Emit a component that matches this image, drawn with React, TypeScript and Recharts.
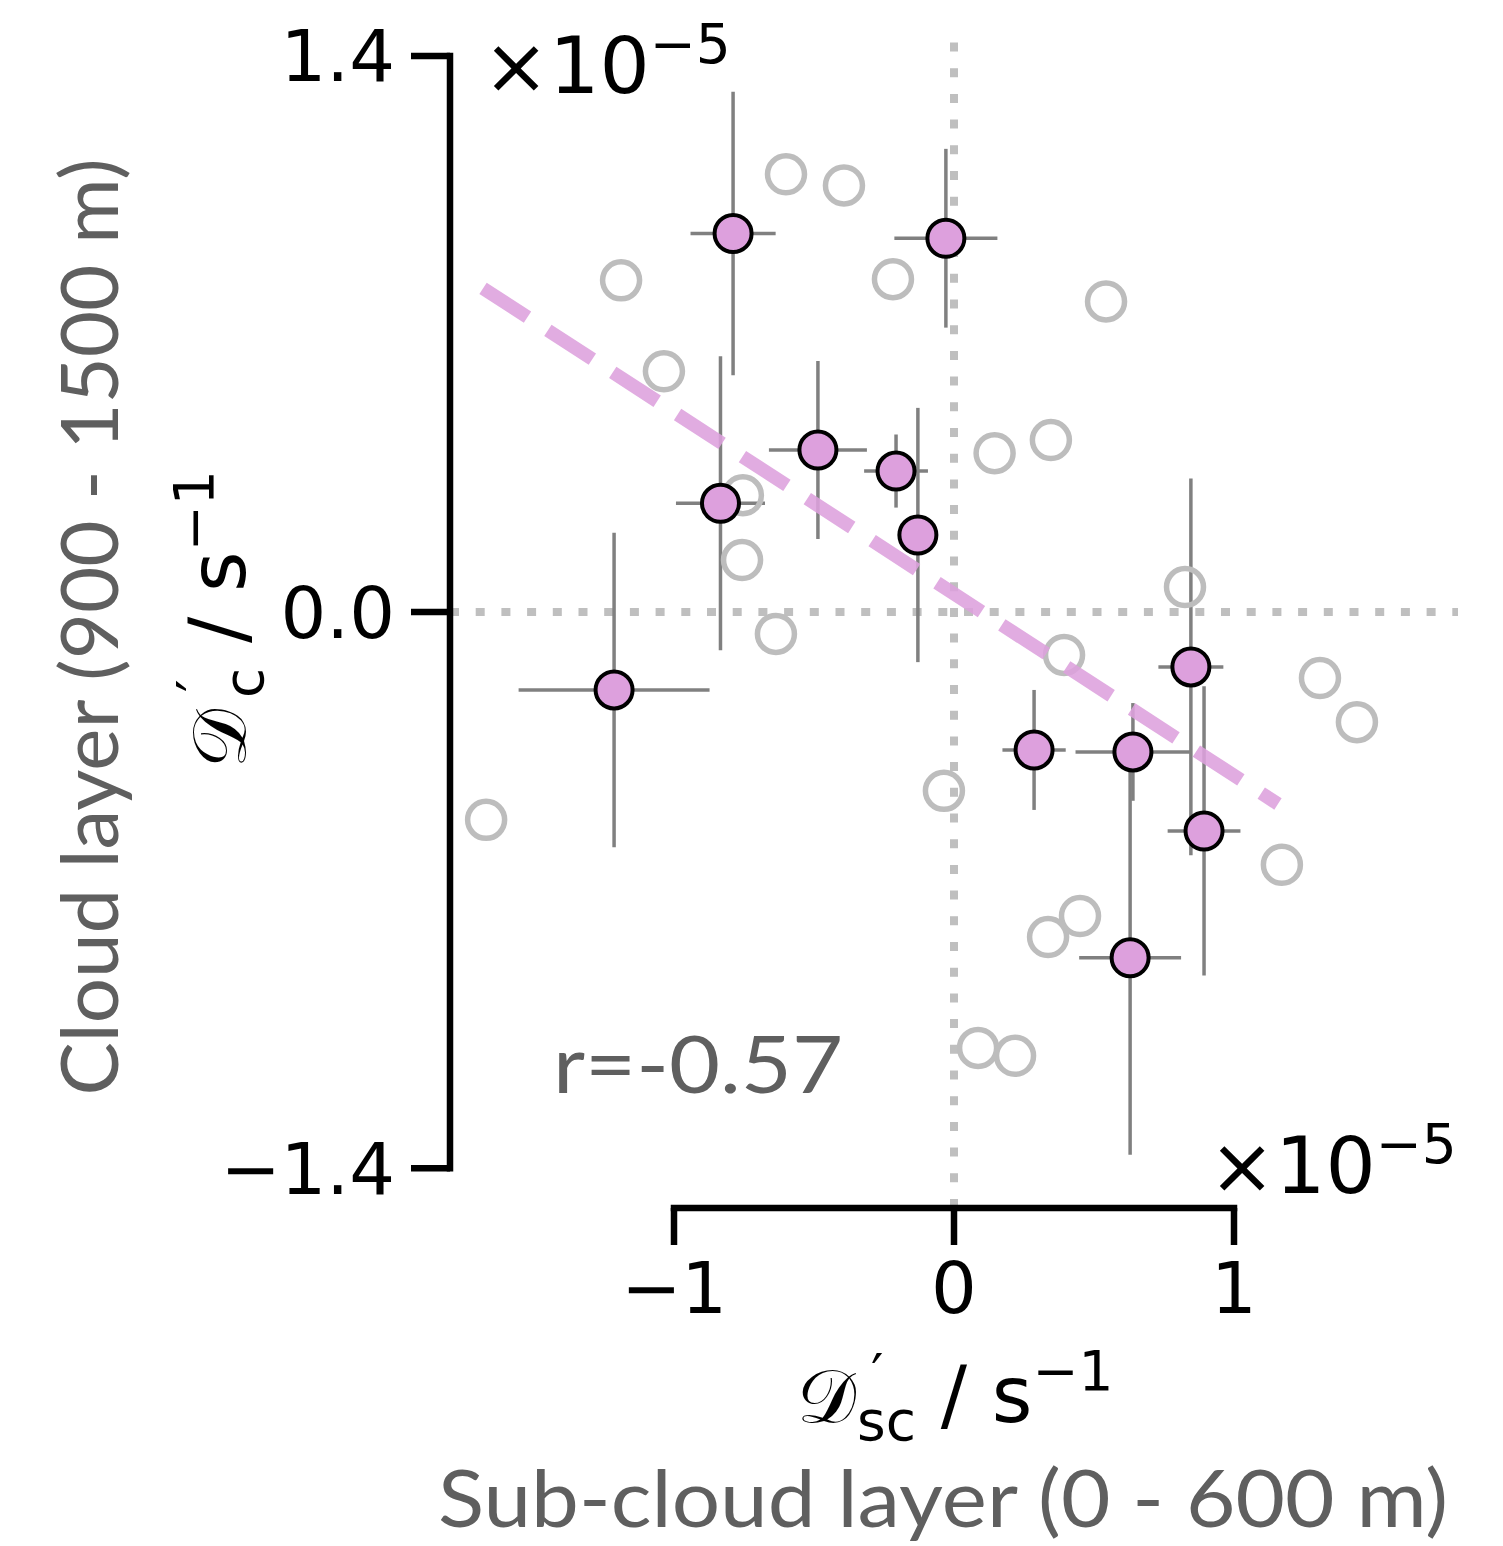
import React from "react";
import { ComposedChart, Scatter, XAxis, YAxis, ReferenceLine, ErrorBar } from "recharts";

// Highlighted cases (purple, with error bars)
const selX = [-0.789, -0.029, -0.486, -0.207, -0.834, -0.129, -1.214, 0.846, 0.286, 0.639, 0.893, 0.629];
const selY = [0.953, 0.941, 0.408, 0.355, 0.274, 0.194, -0.196, -0.138, -0.347, -0.352, -0.551, -0.870];
const selXErr = [0.152, 0.184, 0.175, 0.114, 0.159, 0.05, 0.341, 0.116, 0.113, 0.205, 0.130, 0.182];
const selYErr = [0.357, 0.225, 0.224, 0.092, 0.370, 0.320, 0.396, 0.474, 0.151, 0.123, 0.364, 0.496];

// Other cases (grey open circles)
const otherX = [-0.600, -0.393, -1.189, -0.218, 0.543, -1.036, 0.145, 0.346, -0.754, -0.757, -0.636, 0.825, 0.393, 1.307, 1.439, -0.036, -1.671, 1.171, 0.450, 0.336, 0.086, 0.218];
const otherY = [1.102, 1.074, 0.835, 0.838, 0.782, 0.606, 0.400, 0.433, 0.294, 0.131, -0.055, 0.063, -0.108, -0.166, -0.277, -0.450, -0.523, -0.636, -0.765, -0.818, -1.097, -1.117];

// Regression line end points
const fitX = [-1.682, 1.157];
const fitY = [0.815, -0.483];

const xTicks = [-1, 0, 1];
const yTicks = [-1.4, 0, 1.4];
const xDomain = [-1.8, 1.8];
const yDomain = [-1.5, 1.44];
const corrText = "r=-0.57";

const selData = selX.map((x, i) => ({ x, y: selY[i], xerr: selXErr[i], yerr: selYErr[i] }));
const otherData = otherX.map((x, i) => ({ x, y: otherY[i] }));
const fitData = fitX.map((x, i) => ({ x, y: fitY[i] }));

const PLUM = "#DDA0DD";
const GREY_TXT = "#5f5f5f";
const TICK_FONT = "DejaVu Sans";
const LABEL_FONT = "Lato";

const fmtX = (v: number) => (v < 0 ? "\u2212" + Math.abs(v) : String(v));
const fmtY = (v: number) => (v < 0 ? "\u2212" : "") + Math.abs(v).toFixed(1);

const Empty = () => <g />;
const OpenCircle = (p: any) => (
  <circle cx={p.cx} cy={p.cy} r={18.5} fill="none" stroke="#bdbdbd" strokeWidth={5.5} />
);
const FilledCircle = (p: any) => (
  <circle cx={p.cx} cy={p.cy} r={18.5} fill={PLUM} stroke="#000" strokeWidth={4} />
);

export default function App() {
  return (
    <div style={{ position: "absolute", left: 0, top: 0, width: 1503, height: 1546, background: "#fff" }}>
      <ComposedChart
        width={1503}
        height={1546}
        margin={{ top: 40, right: 45, bottom: 238, left: 350 }}
      >
        <XAxis
          type="number"
          dataKey="x"
          domain={xDomain}
          ticks={xTicks}
          interval={0}
          allowDataOverflow
          axisLine={false}
          tickLine={{ stroke: "#000", strokeWidth: 6.5 }}
          tickSize={37}
          tickMargin={17}
          tickFormatter={fmtX}
          tick={{ fill: "#000", fontSize: 72, fontFamily: TICK_FONT }}
          height={100}
        />
        <YAxis
          type="number"
          dataKey="y"
          domain={yDomain}
          ticks={yTicks}
          interval={0}
          allowDataOverflow
          axisLine={false}
          tickLine={{ stroke: "#000", strokeWidth: 6.5 }}
          tickSize={39}
          tickMargin={16}
          tickFormatter={fmtY}
          tick={{ fill: "#000", fontSize: 72, fontFamily: TICK_FONT }}
          width={100}
        />
        <ReferenceLine y={0} stroke="#bfbfbf" strokeWidth={8} strokeDasharray="9 16.7" />
        <ReferenceLine x={0} stroke="#bfbfbf" strokeWidth={8} strokeDasharray="9 16.7" />
        <Scatter data={otherData} shape={OpenCircle} isAnimationActive={false} />
        <Scatter data={selData} shape={Empty} isAnimationActive={false}>
          <ErrorBar dataKey="xerr" direction="x" width={0} stroke="#808080" strokeWidth={3.5} isAnimationActive={false} />
          <ErrorBar dataKey="yerr" direction="y" width={0} stroke="#808080" strokeWidth={3.5} isAnimationActive={false} />
        </Scatter>
        <Scatter
          data={fitData}
          shape={Empty}
          line={{ stroke: PLUM, strokeWidth: 13.5, strokeDasharray: "53 24.3", strokeOpacity: 0.88 }}
          lineType="joint"
          isAnimationActive={false}
        />
        <Scatter data={selData} shape={FilledCircle} isAnimationActive={false} />
        <ReferenceLine
          segment={[{ x: xDomain[0], y: yTicks[0] }, { x: xDomain[0], y: yTicks[2] }]}
          stroke="#000"
          strokeWidth={6.5}
          strokeLinecap="square"
          ifOverflow="visible"
        />
        <ReferenceLine
          segment={[{ x: xTicks[0], y: yDomain[0] }, { x: xTicks[2], y: yDomain[0] }]}
          stroke="#000"
          strokeWidth={6.5}
          strokeLinecap="square"
          ifOverflow="visible"
        />
      </ComposedChart>
      <svg
        width={1503}
        height={1546}
        style={{ position: "absolute", left: 0, top: 0, pointerEvents: "none" }}
      >
        {/* y offset text */}
        <text x={483} y={93} fontFamily={TICK_FONT} fontSize={79} fill="#000">
          ×10<tspan dy={-30} fontSize={55}>−5</tspan>
        </text>
        {/* x offset text */}
        <text x={1209} y={1193} fontFamily={TICK_FONT} fontSize={79} fill="#000">
          ×10<tspan dy={-30} fontSize={55}>−5</tspan>
        </text>
        {/* correlation */}
        <text x={553} y={1093} fontFamily={LABEL_FONT} fontSize={80} fill={GREY_TXT} textLength={290} lengthAdjust="spacingAndGlyphs">
          {corrText}
        </text>
        {/* y math label (rotated about (245,625); frame x = 870 - screen y) */}
        <text
          x={102}
          y={625}
          transform="rotate(-90 245 625)"
          fontFamily={TICK_FONT}
          fontSize={78}
          fill="#000"
        >
          <tspan fontSize={74}>𝒟</tspan>
          <tspan x={178} fontSize={55} dy={-29}>′</tspan>
          <tspan x={172} fontSize={55} dy={47}>c</tspan>
          <tspan dy={-18}> / s</tspan>
          <tspan fontSize={55} dy={-32}>−1</tspan>
        </text>
        {/* y grey label */}
        <text
          x={118}
          y={627}
          transform="rotate(-90 118 627)"
          textAnchor="middle"
          fontFamily={LABEL_FONT}
          fontSize={80}
          fill={GREY_TXT}
          textLength={937}
          lengthAdjust="spacingAndGlyphs"
        >
          Cloud layer (900 - 1500 m)
        </text>
        {/* x math label */}
        <text x={797} y={1422} fontFamily={TICK_FONT} fontSize={78} fill="#000">
          <tspan fontSize={74}>𝒟</tspan>
          <tspan x={871} fontSize={55} dy={-29}>′</tspan>
          <tspan x={857} fontSize={55} dy={47}>sc</tspan>
          <tspan dy={-18}> / s</tspan>
          <tspan fontSize={55} dy={-32}>−1</tspan>
        </text>
        {/* x grey label */}
        <text
          x={943}
          y={1527}
          textAnchor="middle"
          fontFamily={LABEL_FONT}
          fontSize={80}
          fill={GREY_TXT}
          textLength={1010}
          lengthAdjust="spacingAndGlyphs"
        >
          Sub-cloud layer (0 - 600 m)
        </text>
      </svg>
    </div>
  );
}
